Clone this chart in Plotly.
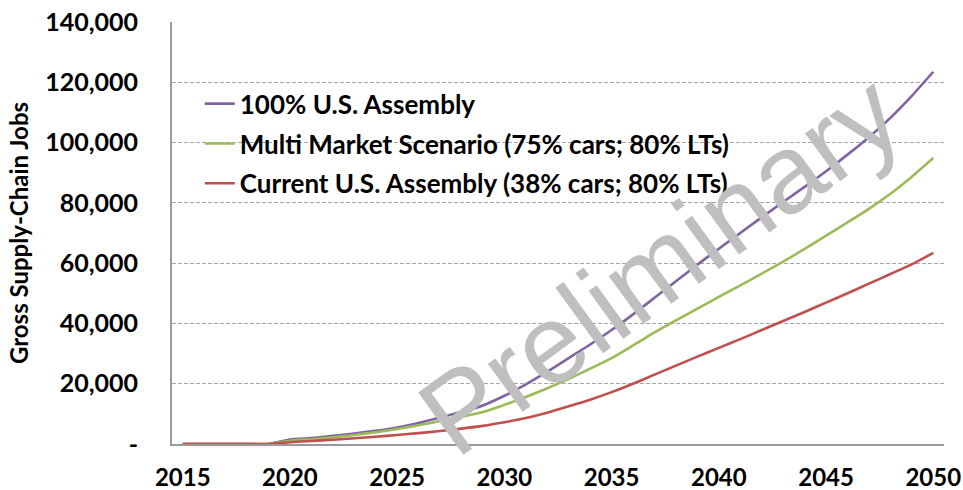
import plotly.graph_objects as go

years = list(range(2015, 2051))

assembly_100 = [0, 0, 0, 0, 0,
                1500, 2000, 2700, 3500, 4400, 5500, 7000, 8800, 10700, 12800,
                16000, 19800, 24000, 28500, 33000, 37800, 43000, 48500, 54000, 59500,
                64800, 70000, 75200, 80300, 85300, 90500, 96000, 101800, 108200, 115500,
                123500]
multi_market = [0, 0, 0, 0, 0,
                1100, 1600, 2200, 3000, 3900, 5000, 6200, 7600, 9000, 10600,
                13000, 15600, 18500, 21600, 25000, 28500, 32700, 37000, 41000, 44900,
                48800, 52600, 56500, 60500, 64700, 69100, 73500, 78000, 83000, 88700,
                94900]
current_assembly = [0, 0, 0, 0, 0,
                    600, 1000, 1400, 1900, 2400, 3000, 3600, 4300, 5100, 6000,
                    7200, 8600, 10400, 12500, 14700, 17200, 20000, 23000, 26000, 29000,
                    31900, 34800, 37800, 40800, 43800, 46900, 50000, 53200, 56400, 59600,
                    63400]

series_names = ["100% U.S. Assembly",
                "Multi Market Scenario (75% cars; 80% LTs)",
                "Current U.S. Assembly (38% cars; 80% LTs)"]
series_colors = ["#8064A2", "#9BBB59", "#C0504D"]

y_tickvals = [0, 20000, 40000, 60000, 80000, 100000, 120000, 140000]
y_ticktext = ["-", "20,000", "40,000", "60,000", "80,000", "100,000", "120,000", "140,000"]
x_tickvals = [2015, 2020, 2025, 2030, 2035, 2040, 2045, 2050]

FONT = "Lato"

fig = go.Figure()
for i, (name, vals, col) in enumerate(zip(series_names,
                                          [assembly_100, multi_market, current_assembly],
                                          series_colors)):
    fig.add_trace(go.Scatter(x=years, y=vals, mode="lines", name=name,
                             legendgroup=str(i),
                             line=dict(color=col, width=2.6, shape="spline", smoothing=0.6)))

fig.update_layout(
    width=963, height=490,
    margin=dict(l=172, r=19, t=22, b=46),
    paper_bgcolor="white", plot_bgcolor="white",
    font=dict(family=FONT, color="black"),
    showlegend=True,
    legend=dict(x=0.036, y=0.862, xanchor="left", yanchor="top",
                bgcolor="rgba(0,0,0,0)", traceorder="grouped",
                tracegroupgap=3, itemwidth=30,
                font=dict(family=FONT, size=26, color="black", weight="bold")),
    xaxis=dict(range=[2014.5, 2050.5], tickvals=x_tickvals,
               ticktext=[str(v) for v in x_tickvals],
               showgrid=False, showline=True, linecolor="#9a9a9a", linewidth=1.8,
               ticks="", zeroline=False, automargin=False, ticklabelstandoff=11,
               tickfont=dict(family=FONT, size=24, weight="bold")),
    yaxis=dict(range=[0, 140000], tickvals=y_tickvals, ticktext=y_ticktext,
               showgrid=True, gridcolor="#a6a6a6", griddash="4px,2px", gridwidth=1,
               showline=True, linecolor="#9a9a9a", linewidth=1.8,
               ticks="", zeroline=False, ticklabelstandoff=27, automargin=False,
               tickfont=dict(family=FONT, size=25, weight="bold"),
               title=dict(text="Gross Supply-Chain Jobs", standoff=10,
                          font=dict(family=FONT, size=24, weight="bold"))),
)

fig.add_annotation(text="Preliminary", xref="paper", yref="paper",
                   x=0.632, y=0.425, showarrow=False, textangle=-36,
                   font=dict(family="Liberation Sans", size=112, color="#bfbfbf"))

fig.write_html("out.html", config={"displayModeBar": False})

# remove the default page margin so the figure sits at the window's top-left corner
with open("out.html", "r", encoding="utf-8") as f:
    html = f.read()
html = html.replace("<body>", '<body style="margin:0;padding:0;overflow:hidden">', 1)
html = html.replace("<head>", '<head><style>html,body{margin:0;padding:0;}</style>', 1)
with open("out.html", "w", encoding="utf-8") as f:
    f.write(html)
